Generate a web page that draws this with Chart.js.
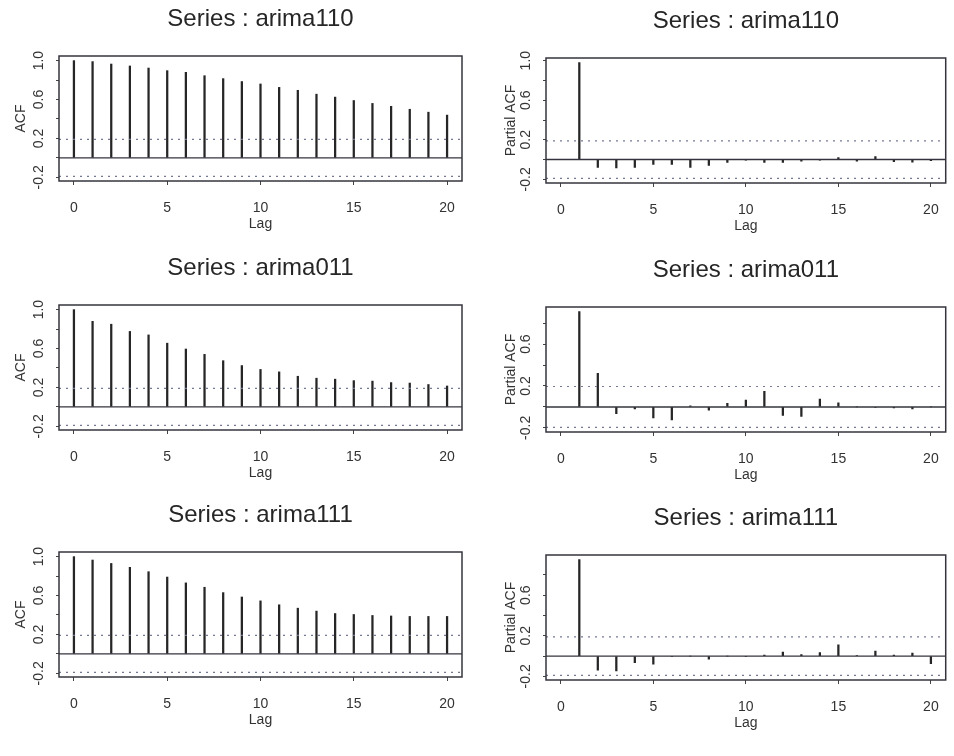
<!DOCTYPE html>
<html><head><meta charset="utf-8">
<script src="https://cdn.jsdelivr.net/npm/chart.js@4.4.1/dist/chart.umd.min.js"></script>
<style>
html,body{margin:0;padding:0;background:#fff;width:954px;height:756px;overflow:hidden}
body{position:relative}
canvas{position:absolute}
</style></head><body>
<canvas id="c1"></canvas><canvas id="c2"></canvas>
<canvas id="c3"></canvas><canvas id="c4"></canvas>
<canvas id="c5"></canvas><canvas id="c6"></canvas>
<script>
// ---------- data ----------
const LAGS_ACF  = [0,1,2,3,4,5,6,7,8,9,10,11,12,13,14,15,16,17,18,19,20];
const LAGS_PACF = [1,2,3,4,5,6,7,8,9,10,11,12,13,14,15,16,17,18,19,20];
const X_TICKS   = [0,5,10,15,20];
const Y_TICKS   = [-0.2,0,0.2,0.4,0.6,0.8,1.0];
const Y_LABELED = [-0.2,0.2,0.6,1.0];

const TITLES = ['Series : arima110','Series : arima110','Series : arima011','Series : arima011','Series : arima111','Series : arima111'];
const YLABELS = ['ACF','Partial ACF','ACF','Partial ACF','ACF','Partial ACF'];
const X_LABEL = 'Lag';

const acf110  = [1.0,0.99,0.965,0.945,0.924,0.897,0.88,0.845,0.815,0.785,0.76,0.725,0.695,0.655,0.625,0.59,0.56,0.53,0.5,0.47,0.44];
const pacf110 = [0.98,-0.08,-0.085,-0.08,-0.05,-0.05,-0.08,-0.06,-0.03,-0.005,-0.03,-0.03,-0.015,-0.005,0.02,-0.015,0.03,-0.02,-0.025,-0.01];
const acf011  = [1.0,0.88,0.85,0.776,0.74,0.655,0.595,0.54,0.475,0.425,0.385,0.36,0.315,0.295,0.285,0.27,0.265,0.25,0.245,0.23,0.215];
const pacf011 = [0.91,0.32,-0.065,-0.02,-0.105,-0.125,0.01,-0.03,0.035,0.065,0.15,-0.08,-0.09,0.075,0.04,0.0,-0.005,-0.01,-0.02,0.0];
const acf111  = [1.0,0.965,0.93,0.89,0.845,0.79,0.73,0.685,0.63,0.585,0.545,0.505,0.47,0.44,0.415,0.405,0.395,0.39,0.385,0.385,0.385];
const pacf111 = [0.95,-0.14,-0.145,-0.065,-0.08,-0.005,0.0,-0.03,0.0,-0.005,0.01,0.04,0.015,0.035,0.11,0.005,0.05,0.01,0.03,-0.075];
const CI_BOUNDS = [0.19,0.19,0.19,0.195,0.19,0.19];

// ---------- layout ----------
const FONT = '"Liberation Sans", Arial, Helvetica, sans-serif';
const XMIN = -0.8, XMAX = 20.8;
const LAYOUT = [
  {left:0,   top:0,   w:477, yWidth:59, padRight:15, yTitlePad:12.3},
  {left:477, top:2,   w:477, yWidth:69, padRight:5,  yTitlePad:25.3},
  {left:0,   top:249, w:477, yWidth:59, padRight:15, yTitlePad:12.3},
  {left:477, top:251, w:477, yWidth:69, padRight:5,  yTitlePad:25.3},
  {left:0,   top:496, w:477, yWidth:59, padRight:15, yTitlePad:12.3},
  {left:477, top:499, w:477, yWidth:69, padRight:5,  yTitlePad:25.3}
];
const H = 250;

const boxPlugin = {
  id:'box',
  afterDatasetsDraw(chart){
    const {ctx, chartArea:a} = chart;
    ctx.save();
    ctx.strokeStyle = '#34343e';
    ctx.lineWidth = 1.5;
    ctx.strokeRect(a.left, a.top, a.right - a.left, a.bottom - a.top);
    ctx.restore();
  }
};

const SERIES = [
  {lags:LAGS_ACF, vals:acf110}, {lags:LAGS_PACF, vals:pacf110},
  {lags:LAGS_ACF, vals:acf011}, {lags:LAGS_PACF, vals:pacf011},
  {lags:LAGS_ACF, vals:acf111}, {lags:LAGS_PACF, vals:pacf111}
];

SERIES.forEach((s, i) => {
  const L = LAYOUT[i];
  const ci = CI_BOUNDS[i];
  const cv = document.getElementById('c' + (i + 1));
  cv.width = L.w; cv.height = H;
  cv.style.left = L.left + 'px'; cv.style.top = L.top + 'px';
  const lo = Math.min(-ci, ...s.vals), hi = Math.max(ci, ...s.vals);
  const ext = (hi - lo) * 0.04;
  const lineDs = (y, dash, color, w) => ({
    type:'line', data:[{x:XMIN, y:y},{x:XMAX, y:y}], borderColor:color, borderWidth:w,
    borderDash:dash, pointRadius:0, tension:0
  });
  new Chart(cv, {
    type:'bar',
    data:{datasets:[
      lineDs(0, [], '#34343e', 1.4),
      lineDs(ci, [2,5], '#737994', 1.2),
      lineDs(-ci, [2,5], '#737994', 1.2),
      {type:'bar', data:s.lags.map((l, k) => ({x:l, y:s.vals[k]})),
       backgroundColor:'#262626', borderWidth:0, barThickness:1.6}
    ]},
    options:{
      responsive:false, animation:false, devicePixelRatio:1,
      layout:{padding:{left:0, right:L.padRight, top:0, bottom:0}},
      plugins:{
        legend:{display:false}, tooltip:{enabled:false},
        title:{display:true, text:TITLES[i], fullSize:false, color:'#262626',
               font:{family:FONT, size:24, weight:'normal'}, padding:{top:4.6, bottom:22.6}}
      },
      scales:{
        x:{type:'linear', min:XMIN, max:XMAX, offset:false,
           afterBuildTicks:sc => { sc.ticks = X_TICKS.map(v => ({value:v})); },
           afterFit:sc => { sc.height = 69; },
           grid:{drawOnChartArea:false, drawTicks:true, tickLength:4, color:'#444', offset:false},
           border:{display:false},
           ticks:{padding:15, color:'#333', font:{family:FONT, size:14}, maxRotation:0, autoSkip:false},
           title:{display:true, text:X_LABEL, color:'#333', font:{family:FONT, size:14},
                  padding:{top:0, bottom:17}}},
        y:{type:'linear', min:lo - ext, max:hi + ext,
           afterBuildTicks:sc => { sc.ticks = Y_TICKS.filter(v => v >= sc.min && v <= sc.max).map(v => ({value:v})); },
           afterFit:sc => { sc.width = L.yWidth; },
           grid:{drawOnChartArea:false, drawTicks:true, tickLength:3, color:'#444'},
           border:{display:false},
           ticks:{padding:5, crossAlign:'center', minRotation:90, maxRotation:90, autoSkip:false,
                  color:'#333', font:{family:FONT, size:14},
                  callback:v => Y_LABELED.some(t => Math.abs(t - v) < 1e-9) ? v.toFixed(1) : ''},
           title:{display:true, text:YLABELS[i], color:'#333', font:{family:FONT, size:14},
                  padding:{top:L.yTitlePad, bottom:0}}}
      }
    },
    plugins:[boxPlugin]
  });
});
</script>
</body></html>
